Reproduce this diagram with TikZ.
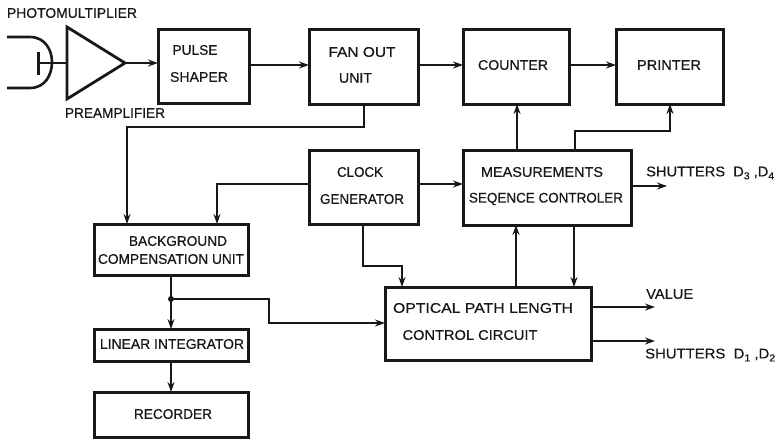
\documentclass[tikz,border=0pt]{standalone}
\usepackage{graphicx}
\usepackage{fontspec}
\setmainfont{Liberation Sans}[FakeBold=0.6]
\usetikzlibrary{arrows.meta,calc}
\definecolor{ink}{RGB}{24,24,24}
\tikzset{
  x=1pt,y=-1pt,
  blockbox/.style={draw=ink,line width=3pt,inner sep=0,outer sep=0,anchor=north west},
  lab/.style={inner sep=0,text=ink,font=\fontsize{14}{16}\selectfont,align=center},
  wire/.style={draw=ink,line width=2.3pt},
  flow/.style={wire,-{Stealth[length=10pt,width=7pt]}},
  dotj/.style={circle,fill=ink,inner sep=0,outer sep=0,minimum size=6pt},
}
\newcommand{\boxat}[5]{\node[blockbox,minimum width=#4pt,minimum height=#5pt] (#1) at (#2,#3) {};}
\newcommand{\fitw}[2]{\resizebox{#1pt}{\height}{#2}}
\newcommand{\subn}[1]{\raisebox{-3pt}{\fontsize{10}{10}\selectfont #1}}
\begin{document}
\begin{tikzpicture}
\useasboundingbox (0,0) rectangle (776,439);
% blocks
\boxat{pulse}{158}{29}{91}{74}
\boxat{fan}{309}{29}{109}{75}
\boxat{counter}{463}{29}{106}{75}
\boxat{printer}{616}{29}{107}{75}
\boxat{clock}{309}{150}{109}{74}
\boxat{meas}{463}{150}{168}{75}
\boxat{bg}{94}{224}{154}{51}
\boxat{lin}{94}{329}{154}{32}
\boxat{rec}{94}{392}{154}{45}
\boxat{opt}{385}{287}{206}{73}
% block texts
\node[lab] (t1) at (195,50) {\fitw{45}{PULSE}};
\node[lab] (t2) at (199,77) {\fitw{58}{SHAPER}};
\node[lab] (t3) at (362,52) {\fitw{67}{FAN OUT}};
\node[lab] (t4) at (355.5,78) {\fitw{33}{UNIT}};
\node[lab] (t5) at (513,65) {\fitw{70}{COUNTER}};
\node[lab] (t6) at (669,65) {\fitw{64}{PRINTER}};
\node[lab] (t7) at (360,172) {\fitw{46}{CLOCK}};
\node[lab] (t8) at (362,199) {\fitw{84}{GENERATOR}};
\node[lab] (t9) at (542,172) {\fitw{122}{MEASUREMENTS}};
\node[lab] (t10) at (546,199) {\fitw{154}{SEQENCE CONTROLER}};
\node[lab] (t11) at (178,241) {\fitw{98}{BACKGROUND}};
\node[lab] (t12) at (171,259) {\fitw{146}{COMPENSATION UNIT}};
\node[lab] (t13) at (172,344) {\fitw{144}{LINEAR INTEGRATOR}};
\node[lab] (t14) at (173,414) {\fitw{78}{RECORDER}};
\node[lab] (t15) at (483,308) {\fitw{180}{OPTICAL PATH LENGTH}};
\node[lab] (t16) at (470,335) {\fitw{135}{CONTROL CIRCUIT}};
\node[lab] (t17) at (72,13) {\fitw{130}{PHOTOMULTIPLIER}};
\node[lab] (t18) at (115,113) {\fitw{100}{PREAMPLIFIER}};
% outside texts
\node[lab,anchor=west] (s34) at (646,173) {\fitw{128}{SHUTTERS~~D\subn{3} ,D\subn{4}}};
\node[lab,anchor=west] (val) at (646,294) {\fitw{47}{VALUE}};
\node[lab,anchor=west] (s12) at (645,355) {\fitw{130}{SHUTTERS~~D\subn{1} ,D\subn{2}}};
% photomultiplier and preamplifier
\draw[wire,line width=2.6pt] (7,37) -- (30,37) .. controls (45,37) and (52,50) .. (52,62) .. controls (52,75) and (45,88) .. (30,88) -- (7,88);
\draw[wire,line width=3pt] (38,52) -- (38,75);
\coordinate (pmstem) at (38,63);
\coordinate (ampin) at (67,63);
\coordinate (amptip) at (125,63);
\draw[wire,line width=2.8pt,line join=miter] (67,27) -- (amptip) -- (67,99) -- cycle;
\draw[wire] (pmstem) -- (ampin);
% connectors
\draw[flow] (amptip) -- (pulse.west |- amptip);
\draw[flow] (pulse.east |- 0,65) -- (fan.west |- 0,65);
\draw[flow] (fan.east |- 0,65) -- (counter.west |- 0,65);
\draw[flow] (counter.east |- 0,65) -- (printer.west |- 0,65);
\draw[flow] (fan.south -| 364,0) -- (364,127) -- (127,127) -- (bg.north -| 127,0);
\draw[flow] (clock.west |- 0,184) -- (217,184) -- (bg.north -| 217,0);
\draw[flow] (clock.east |- 0,184) -- (meas.west |- 0,184);
\draw[flow] (meas.north -| 517,0) -- (counter.south -| 517,0);
\draw[flow] (meas.north -| 575,0) -- (575,131) -- (670,131) -- (printer.south -| 670,0);
\draw[flow] (meas.east |- 0,186) -- (667,186);
\draw[flow] (clock.south -| 363,0) -- (363,266) -- (402,266) -- (opt.north -| 402,0);
\draw[flow] (meas.south -| 574,0) -- (opt.north -| 574,0);
\draw[flow] (opt.north -| 516,0) -- (meas.south -| 516,0);
\draw[flow] (bg.south -| 171,0) -- (lin.north -| 171,0);
\node[dotj] (junc) at (171,299) {};
\draw[flow] (junc) -- (269,299) -- (269,323) -- (opt.west |- 0,323);
\draw[flow] (lin.south -| 171,0) -- (rec.north -| 171,0);
\draw[flow] (opt.east |- 0,307) -- (655,307);
\draw[flow] (opt.east |- 0,341) -- (655,341);
\end{tikzpicture}
\end{document}
